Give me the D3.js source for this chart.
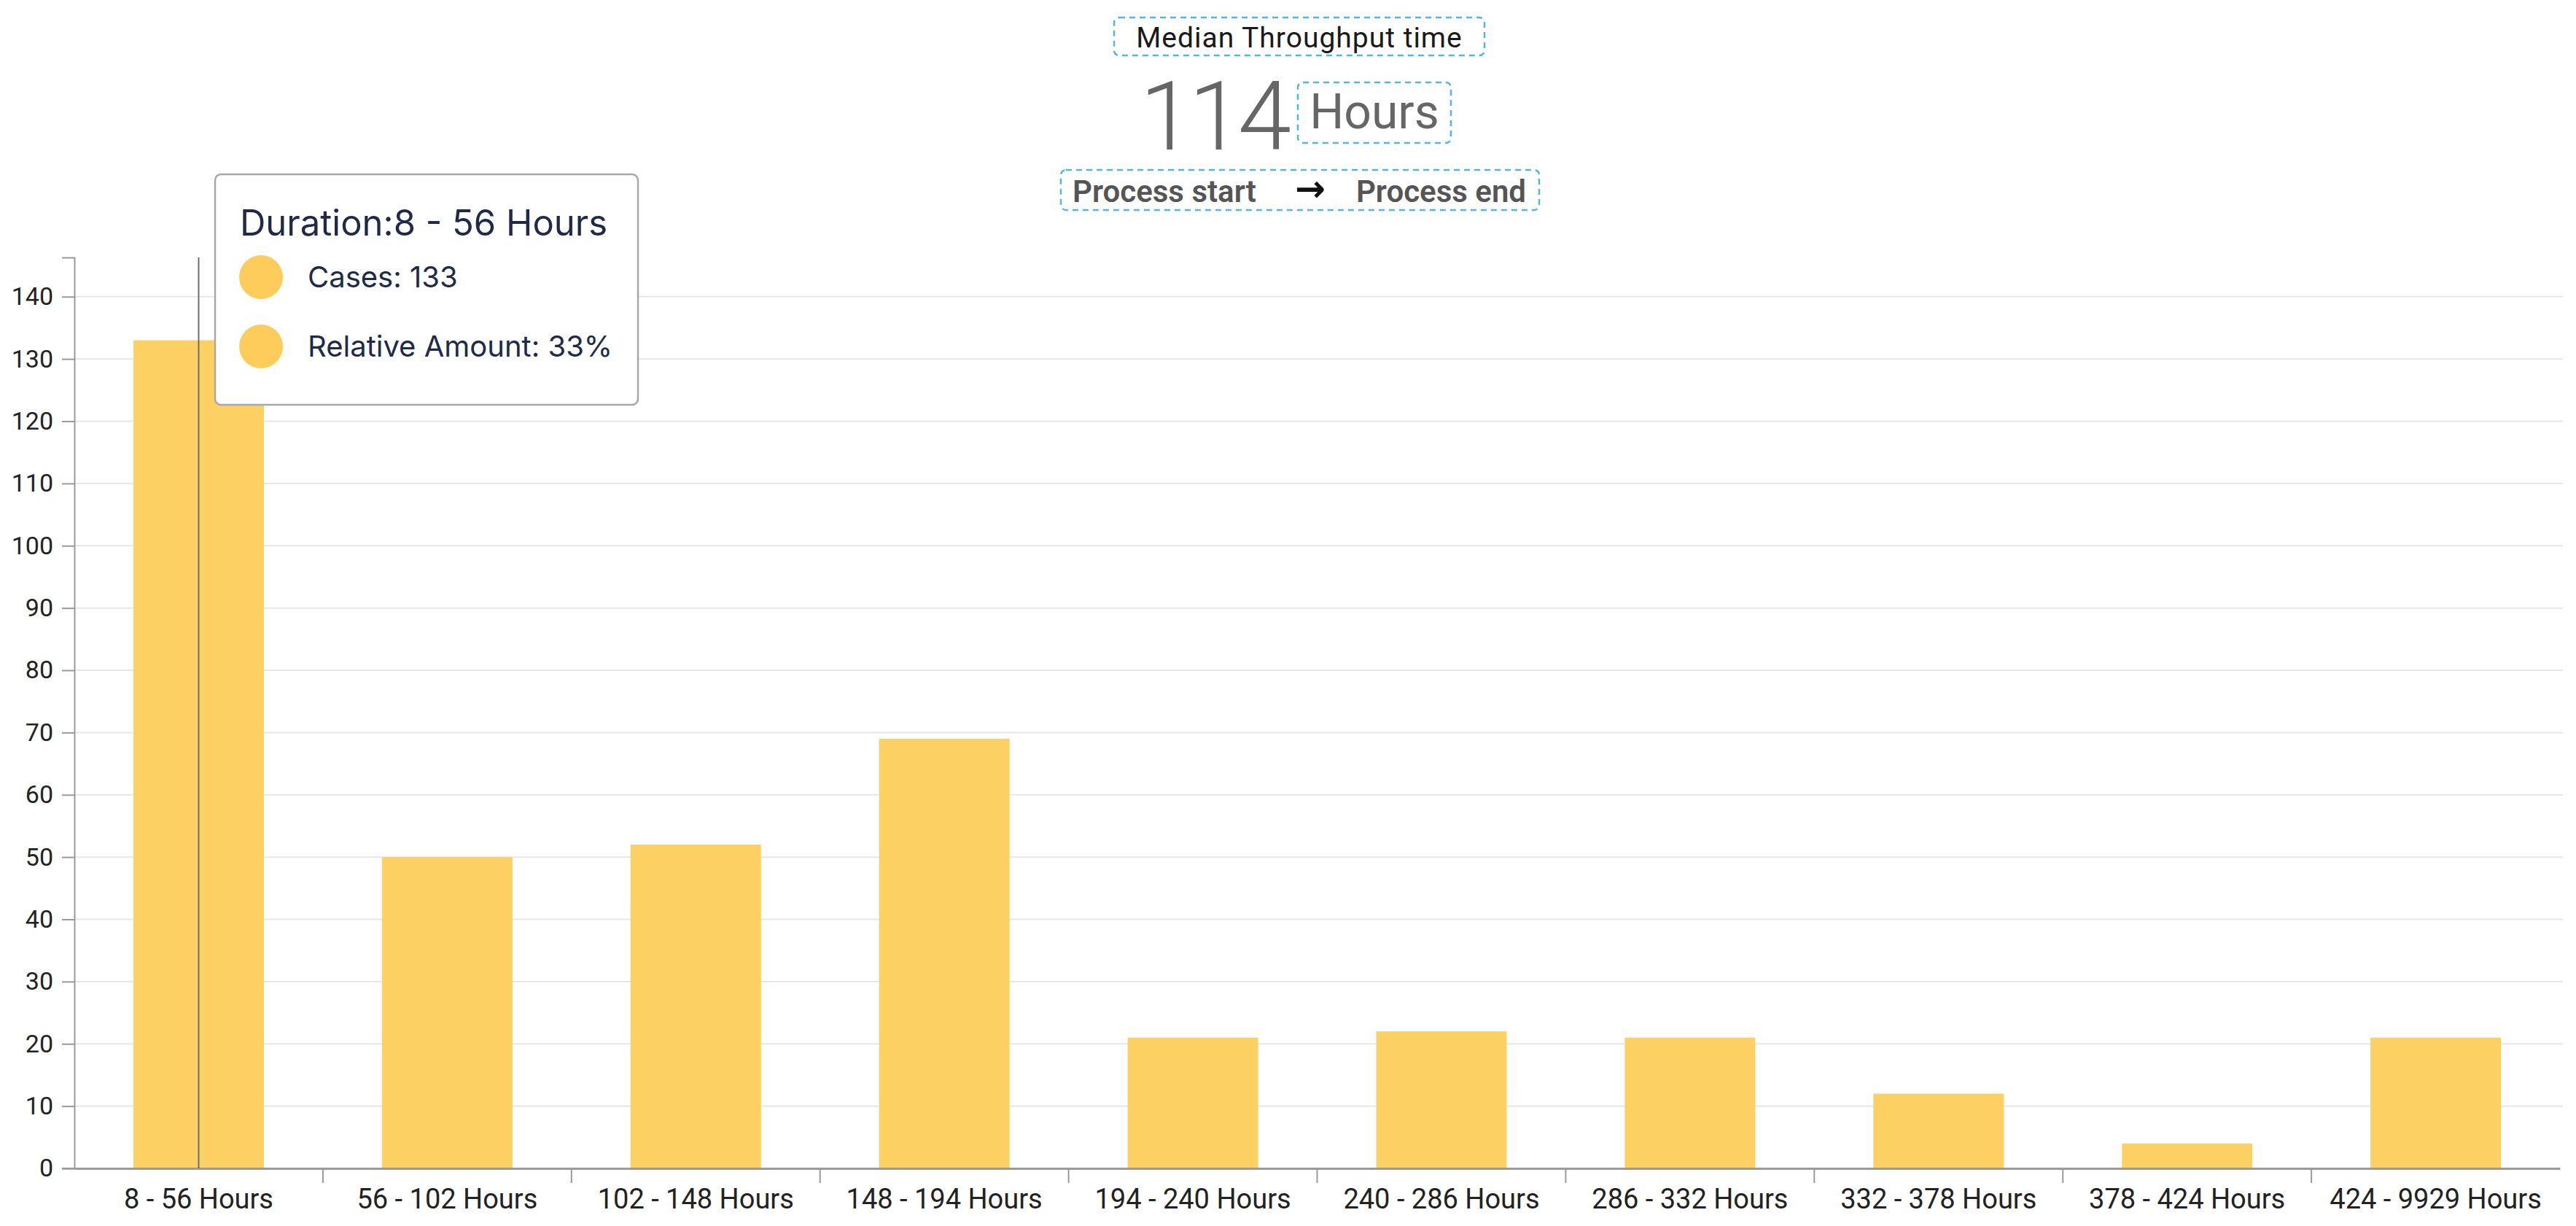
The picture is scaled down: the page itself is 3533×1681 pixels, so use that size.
<!DOCTYPE html>
<html>
<head>
<meta charset="utf-8">
<script src="https://cdn.jsdelivr.net/npm/d3@7"></script>
<style>
  html, body { margin: 0; padding: 0; background: #fff; }
  svg { display: block; }
</style>
</head>
<body>
<div id="chart"></div>
<script>
// throughput time histogram
const binLabels = ['8 - 56 Hours', '56 - 102 Hours', '102 - 148 Hours', '148 - 194 Hours', '194 - 240 Hours',
  '240 - 286 Hours', '286 - 332 Hours', '332 - 378 Hours', '378 - 424 Hours', '424 - 9929 Hours'];
const caseCounts = [133, 50, 52, 69, 21, 22, 21, 12, 4, 21];
const yTicks = [0, 10, 20, 30, 40, 50, 60, 70, 80, 90, 100, 110, 120, 130, 140];
const medianValue = 114;
const medianUnit = 'Hours';
const hoverIndex = 0;

const W = 3533, H = 1681;
const margin = { top: 353, right: 22, bottom: 79, left: 102 };
const barColor = '#fdd064';
const boxColor = '#55b6d8';

const svg = d3.select('#chart').append('svg')
  .attr('width', W).attr('height', H);

const x = d3.scaleBand()
  .domain(binLabels)
  .range([margin.left, W - margin.right])
  .paddingInner(0.475)
  .paddingOuter(0.2375);

const y = d3.scaleLinear()
  .domain([0, d3.max(caseCounts) * 1.1])
  .range([H - margin.bottom, margin.top]);

// grid
svg.append('g')
  .selectAll('line')
  .data(yTicks.slice(1))
  .join('line')
  .attr('x1', margin.left).attr('x2', W - 18)
  .attr('y1', d => y(d)).attr('y2', d => y(d))
  .attr('stroke', '#e7e7e7').attr('stroke-width', 2);

// bars
svg.append('g')
  .selectAll('rect')
  .data(caseCounts)
  .join('rect')
  .attr('x', (d, i) => x(binLabels[i]))
  .attr('y', d => y(d))
  .attr('width', x.bandwidth())
  .attr('height', d => y(0) - y(d))
  .attr('fill', barColor);

// y axis
const yAxis = svg.append('g')
  .attr('transform', `translate(${margin.left},0)`)
  .call(d3.axisLeft(y).tickValues(yTicks).tickSize(17).tickPadding(12));
yAxis.select('.domain').attr('stroke', '#9a9a9a').attr('stroke-width', 2);
yAxis.selectAll('.tick line').attr('stroke', '#9a9a9a').attr('stroke-width', 2);
yAxis.selectAll('text')
  .attr('font-family', 'Roboto, sans-serif')
  .attr('font-size', 34)
  .attr('fill', '#222');

// x axis
const xAxis = svg.append('g')
  .attr('transform', `translate(0,${y(0)})`)
  .call(d3.axisBottom(x).tickSize(0).tickPadding(28));
xAxis.select('.domain').attr('stroke', '#9a9a9a').attr('stroke-width', 3);
xAxis.selectAll('text')
  .attr('font-family', 'Roboto, sans-serif')
  .attr('font-size', 38)
  .attr('fill', '#222');
// band separator ticks
const step = x.step();
xAxis.append('g')
  .selectAll('line')
  .data(binLabels.slice(1))
  .join('line')
  .attr('x1', d => x(d) - (step - x.bandwidth()) / 2)
  .attr('x2', d => x(d) - (step - x.bandwidth()) / 2)
  .attr('y1', 0).attr('y2', 20)
  .attr('stroke', '#9a9a9a').attr('stroke-width', 2);
// left stub of x axis under the 0 tick
xAxis.append('line')
  .attr('x1', margin.left - 17).attr('x2', margin.left)
  .attr('stroke', '#9a9a9a').attr('stroke-width', 2);

// hover cursor line
const hx = x(binLabels[hoverIndex]) + x.bandwidth() / 2;
svg.append('line')
  .attr('x1', hx).attr('x2', hx)
  .attr('y1', margin.top).attr('y2', y(0))
  .attr('stroke', '#707070').attr('stroke-width', 2);

// header
const head = svg.append('g');
function dashBox(x0, y0, w, h) {
  head.append('rect')
    .attr('x', x0).attr('y', y0).attr('width', w).attr('height', h)
    .attr('rx', 7)
    .attr('fill', 'none')
    .attr('stroke', boxColor).attr('stroke-width', 2.5)
    .attr('stroke-dasharray', '8 6');
}
dashBox(1528, 24, 508, 52);
head.append('text')
  .attr('x', 1782).attr('y', 65)
  .attr('text-anchor', 'middle')
  .attr('font-family', 'Roboto, sans-serif')
  .attr('font-size', 39)
  .attr('letter-spacing', 1)
  .attr('fill', '#1a1a1a')
  .text('Median Throughput time');

head.append('text')
  .attr('x', 1765).attr('y', 205)
  .attr('text-anchor', 'end')
  .attr('font-family', 'Roboto, sans-serif')
  .attr('font-weight', 300)
  .attr('font-size', 132)
  .attr('letter-spacing', -6)
  .attr('fill', '#666')
  .text(medianValue);
dashBox(1780, 113, 210, 83);
head.append('text')
  .attr('x', 1885).attr('y', 176)
  .attr('text-anchor', 'middle')
  .attr('font-family', 'Roboto, sans-serif')
  .attr('font-size', 66)
  .attr('fill', '#666')
  .text(medianUnit);

dashBox(1455, 233, 656, 55);
head.append('text')
  .attr('x', 1471).attr('y', 277)
  .attr('font-family', 'Roboto, sans-serif')
  .attr('font-weight', 600)
  .attr('font-size', 42)
  .attr('fill', '#555')
  .text('Process start');
head.append('text')
  .attr('x', 1797).attr('y', 276)
  .attr('text-anchor', 'middle')
  .attr('font-family', 'DejaVu Sans, sans-serif')
  .attr('font-weight', 700)
  .attr('font-size', 50)
  .attr('fill', '#111')
  .text('\u2192');
head.append('text')
  .attr('x', 2093).attr('y', 277)
  .attr('text-anchor', 'end')
  .attr('font-family', 'Roboto, sans-serif')
  .attr('font-weight', 600)
  .attr('font-size', 42)
  .attr('fill', '#555')
  .text('Process end');

// tooltip
const total = d3.sum(caseCounts);
const tip = svg.append('g').attr('transform', 'translate(295,239)');
tip.append('rect')
  .attr('width', 580).attr('height', 316)
  .attr('rx', 8)
  .attr('fill', '#fff')
  .attr('stroke', '#a8a8a8').attr('stroke-width', 2.5);
tip.append('text')
  .attr('x', 34).attr('y', 84)
  .attr('font-family', 'Inter, sans-serif')
  .attr('font-size', 49)
  .attr('fill', '#1e2a48')
  .text('Duration:' + binLabels[hoverIndex]);
const tipRows = [
  'Cases: ' + caseCounts[hoverIndex],
  'Relative Amount: ' + Math.round(caseCounts[hoverIndex] / total * 100) + '%'
];
tip.selectAll('g.row')
  .data(tipRows)
  .join('g')
  .attr('class', 'row')
  .attr('transform', (d, i) => `translate(0,${141 + i * 95})`)
  .call(g => {
    g.append('circle').attr('cx', 63).attr('cy', 0).attr('r', 30).attr('fill', '#fdcc5a');
    g.append('text')
      .attr('x', 127).attr('y', 14)
      .attr('font-family', 'Inter, sans-serif')
      .attr('font-size', 40)
      .attr('fill', '#1e2a48')
      .text(d => d);
  });
</script>
</body>
</html>
